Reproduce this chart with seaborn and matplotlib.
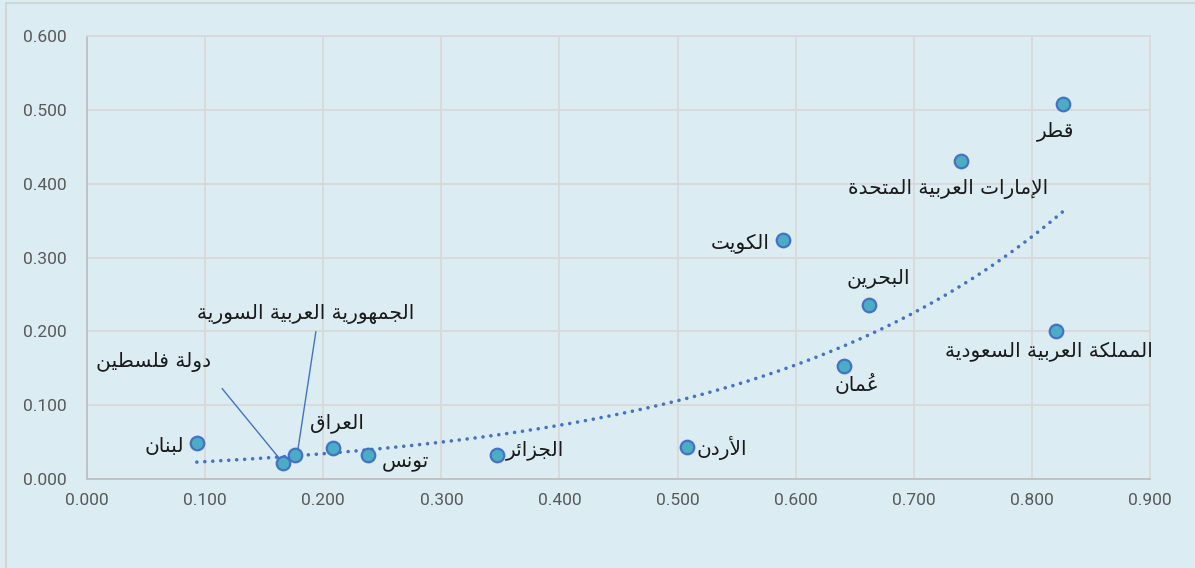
import matplotlib
matplotlib.use("Agg")
import matplotlib.pyplot as plt
import matplotlib.patches as mpatches
import numpy as np
import pandas as pd
import seaborn as sns

# data
countries = ["لبنان", "دولة فلسطين", "الجمهورية العربية السورية", "العراق", "تونس",
             "الجزائر", "الأردن", "عُمان", "البحرين", "المملكة العربية السعودية",
             "الإمارات العربية المتحدة", "الكويت", "قطر"]
x_vals = [0.093, 0.166, 0.176, 0.208, 0.238, 0.347, 0.508, 0.641, 0.662, 0.820, 0.740, 0.589, 0.826]
y_vals = [0.049, 0.021, 0.033, 0.042, 0.033, 0.033, 0.043, 0.1535, 0.235, 0.201, 0.431, 0.324, 0.508]

# label placement: offset in pixels from the point, horizontal alignment
label_offsets = [(-13, -4, "right"), (-130, 101, "center"), (11, 141, "center"), (4, 25, "center"),
                 (14, -7, "left"), (9, 5, "left"), (9, -1, "left"), (13, -19, "center"),
                 (9, 27, "center"), (-7, -20, "center"), (-13, -28, "center"), (-13, -3, "right"),
                 (-7, -27, "center")]
# leader lines (start offset, end offset) for the crowded labels
leaders = {1: ((-61, 75), (-2, 3)), 2: ((21, 123), (3, 5))}

ticks_x = np.arange(0, 0.91, 0.1)
ticks_y = np.arange(0, 0.61, 0.1)


# matplotlib has no arabic shaping, so pick the contextual forms by hand
_forms = {}
for base, start, n in [(0x621, 0xFE80, 1), (0x622, 0xFE81, 2), (0x623, 0xFE83, 2), (0x624, 0xFE85, 2),
                       (0x625, 0xFE87, 2), (0x626, 0xFE89, 4), (0x627, 0xFE8D, 2), (0x628, 0xFE8F, 4),
                       (0x629, 0xFE93, 2), (0x62A, 0xFE95, 4), (0x62B, 0xFE99, 4), (0x62C, 0xFE9D, 4),
                       (0x62D, 0xFEA1, 4), (0x62E, 0xFEA5, 4), (0x62F, 0xFEA9, 2), (0x630, 0xFEAB, 2),
                       (0x631, 0xFEAD, 2), (0x632, 0xFEAF, 2), (0x633, 0xFEB1, 4), (0x634, 0xFEB5, 4),
                       (0x635, 0xFEB9, 4), (0x636, 0xFEBD, 4), (0x637, 0xFEC1, 4), (0x638, 0xFEC5, 4),
                       (0x639, 0xFEC9, 4), (0x63A, 0xFECD, 4), (0x641, 0xFED1, 4), (0x642, 0xFED5, 4),
                       (0x643, 0xFED9, 4), (0x644, 0xFEDD, 4), (0x645, 0xFEE1, 4), (0x646, 0xFEE5, 4),
                       (0x647, 0xFEE9, 4), (0x648, 0xFEED, 2), (0x649, 0xFEEF, 2), (0x64A, 0xFEF1, 4)]:
    _forms[chr(base)] = [chr(start + i) for i in range(n)]
_lamalef = {"آ": ["\uFEF5", "\uFEF6"], "أ": ["\uFEF7", "\uFEF8"],
            "إ": ["\uFEF9", "\uFEFA"], "ا": ["\uFEFB", "\uFEFC"]}


def rtl(s):
    toks = []  # [forms, marks]
    i = 0
    while i < len(s):
        c = s[i]
        if 0x64B <= ord(c) <= 0x652 and toks:
            toks[-1][1] += c
        elif c == "ل" and i + 1 < len(s) and s[i + 1] in _lamalef:
            toks.append([_lamalef[s[i + 1]], ""])
            i += 1
        elif c in _forms:
            toks.append([_forms[c], ""])
        else:
            toks.append([None, c])
        i += 1
    out = []
    for k, (f, marks) in enumerate(toks):
        if f is None:
            out.append(marks)
            continue
        prev = toks[k - 1][0] if k > 0 else None
        nxt = toks[k + 1][0] if k + 1 < len(toks) else None
        jp = prev is not None and len(prev) == 4
        jn = len(f) == 4 and nxt is not None and len(nxt) > 1
        if jp and jn:
            g = f[3]
        elif jp:
            g = f[1]
        elif jn:
            g = f[2]
        else:
            g = f[0]
        # marks go first so that, once reversed, they sit on the glyph's left part
        out.append(g + marks)
    vis = out[::-1]
    return "".join(t[1:] + t[0] if len(t) > 1 else t for t in vis)


df = pd.DataFrame({"x": x_vals, "y": y_vals, "country": countries})

# exponential trendline, fitted like Excel does (log-linear)
b, ln_a = np.polyfit(df["x"], np.log(df["y"]), 1)
trend_x = np.linspace(df["x"].min(), df["x"].max(), 200)
trend = pd.DataFrame({"x": trend_x, "y": np.exp(ln_a) * np.exp(b * trend_x)})

sns.set_theme(style="whitegrid")
plt.rcParams["font.family"] = ["DejaVu Sans"]

bg = "#DBEDF3"
fig = plt.figure(figsize=(11.95, 5.68), dpi=100, facecolor=bg)
ax = fig.add_axes([87 / 1195, 1 - 479 / 568, (1150 - 87) / 1195, (479 - 36) / 568])
ax.set_facecolor(bg)
ax.set_xlim(0, 0.9)
ax.set_ylim(0, 0.6)

fig.patches.append(mpatches.Rectangle((6 / 1195, -0.05), 1.1, 1.05 - 3 / 568,
                                      transform=fig.transFigure, fill=False,
                                      edgecolor="#D4D4D4", linewidth=1.5))

sns.lineplot(data=trend, x="x", y="y", ax=ax, color="#4472C4", linewidth=2.6,
             linestyle=(0, (0.01, 2.2)), dash_capstyle="round", zorder=3)
sns.scatterplot(data=df, x="x", y="y", ax=ax, s=95, color="#4BACC6",
                edgecolor="#4472C4", linewidth=1.6, zorder=4)

for i, row in df.iterrows():
    dx, dy, ha = label_offsets[i]
    ax.annotate(rtl(row["country"]), (row["x"], row["y"]), xytext=(dx, dy),
                textcoords="offset pixels", ha=ha, va="center", fontsize=14.5,
                color="#1a1a1a", zorder=5)
    if i in leaders:
        (sx, sy), (ex, ey) = leaders[i]
        p = ax.transData.transform((row["x"], row["y"]))
        start = ax.transData.inverted().transform(p + [sx, sy])
        end = ax.transData.inverted().transform(p + [ex, ey])
        ax.plot([start[0], end[0]], [start[1], end[1]], color="#4472C4", linewidth=1.0, zorder=3)

ax.set_xlim(0, 0.9)
ax.set_ylim(0, 0.6)
ax.set_xticks(ticks_x)
ax.set_yticks(ticks_y)
ax.set_xticklabels([f"{t:.3f}" for t in ticks_x])
ax.set_yticklabels([f"{t:.3f}" for t in ticks_y])
ax.set_xlabel("")
ax.set_ylabel("")
ax.grid(True, color="#D9D9D9", linewidth=1.3)
ax.tick_params(length=0, labelsize=12.5, labelcolor="#595959")
ax.tick_params(axis="x", pad=10)
ax.tick_params(axis="y", pad=15)
for lab in ax.get_xticklabels() + ax.get_yticklabels():
    lab.set_family(["Roboto", "DejaVu Sans"])
for side in ["top", "right"]:
    ax.spines[side].set_color("#D9D9D9")
    ax.spines[side].set_linewidth(1.3)
for side in ["left", "bottom"]:
    ax.spines[side].set_color("#BFBFBF")
    ax.spines[side].set_linewidth(1.3)

fig.savefig("out.png", dpi=100, facecolor=bg)
